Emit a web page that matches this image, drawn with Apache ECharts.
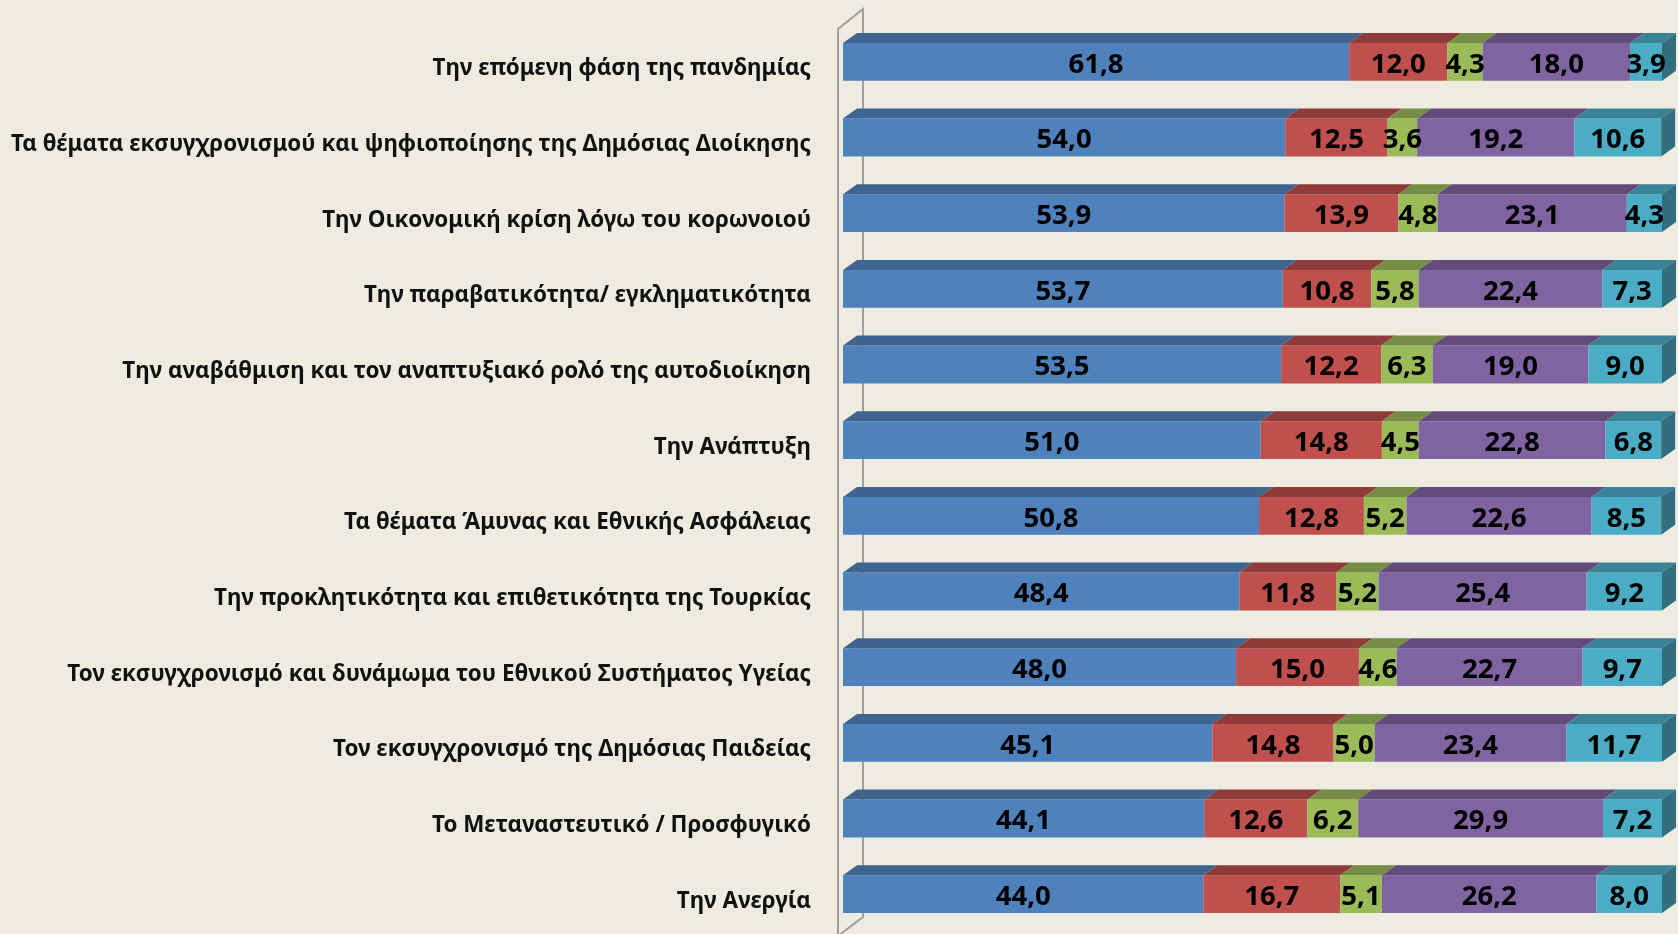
<!DOCTYPE html>
<html>
<head>
<meta charset="utf-8">
<script src="https://cdn.jsdelivr.net/npm/echarts@6/dist/echarts.min.js"></script>
<style>
html,body{margin:0;padding:0;background:#EEEBE0;}
#c{width:1678px;height:934px;}
</style>
</head>
<body>
<div id="c"></div>
<script>
const categories = [
  'Την επόμενη φάση της πανδημίας',
  'Τα θέματα εκσυγχρονισμού και ψηφιοποίησης της Δημόσιας Διοίκησης',
  'Την Οικονομική κρίση λόγω του κορωνοιού',
  'Την παραβατικότητα/ εγκληματικότητα',
  'Την αναβάθμιση και τον αναπτυξιακό ρολό της αυτοδιοίκηση',
  'Την Ανάπτυξη',
  'Τα θέματα Άμυνας και Εθνικής Ασφάλειας',
  'Την προκλητικότητα και επιθετικότητα της Τουρκίας',
  'Τον εκσυγχρονισμό και δυνάμωμα του Εθνικού Συστήματος Υγείας',
  'Τον εκσυγχρονισμό της Δημόσιας Παιδείας',
  'Το Μεταναστευτικό / Προσφυγικό',
  'Την Ανεργία'
];
const series1 = [61.8, 54.0, 53.9, 53.7, 53.5, 51.0, 50.8, 48.4, 48.0, 45.1, 44.1, 44.0];
const series2 = [12.0, 12.5, 13.9, 10.8, 12.2, 14.8, 12.8, 11.8, 15.0, 14.8, 12.6, 16.7];
const series3 = [4.3, 3.6, 4.8, 5.8, 6.3, 4.5, 5.2, 5.2, 4.6, 5.0, 6.2, 5.1];
const series4 = [18.0, 19.2, 23.1, 22.4, 19.0, 22.8, 22.6, 25.4, 22.7, 23.4, 29.9, 26.2];
const series5 = [3.9, 10.6, 4.3, 7.3, 9.0, 6.8, 8.5, 9.2, 9.7, 11.7, 7.2, 8.0];

const frontColors = ['#4F81BD', '#C0504D', '#9BBB59', '#8064A2', '#4BACC6'];
const topColors = ['#3E648F', '#8E3B39', '#758D44', '#624C7C', '#3A8297'];
const sideColor = '#316E7F';

const allSeries = [series1, series2, series3, series4, series5];
const rows = categories.map((c, i) => [i].concat(allSeries.map(s => s[i])));

const DX = 14, DY = 10;
function fmt(v){ return v.toFixed(1).replace('.', ','); }

const chart = echarts.init(document.getElementById('c'), null, {renderer: 'canvas'});
chart.setOption({
  backgroundColor: '#EEEBE0',
  animation: false,
  grid: {left: 843, right: 16, top: 24, bottom: 2},
  xAxis: {type: 'value', min: 0, max: 100, show: false},
  yAxis: {
    type: 'category', data: categories, inverse: true,
    axisLine: {show: false}, axisTick: {show: false},
    axisLabel: {margin: 32, fontFamily: 'Noto Sans', fontWeight: 'bold', fontSize: 22.4, color: '#111',
      verticalAlign: 'top', lineHeight: 14}
  },
  series: [
    {
      type: 'custom', z: 1, silent: true,
      data: [[0]],
      renderItem(params, api) {
        const p = api.coord([0, 0]);
        const band = api.size([0, 1])[1];
        const gTop = p[1] - band / 2;
        const gBot = gTop + band * categories.length;
        const xf = p[0] - 5, xb = p[0] + 20;
        const st = {stroke: '#A0A0A0', lineWidth: 2, fill: null};
        return {type: 'group', children: [
          {type: 'polyline', shape: {points: [[xf, gBot + 4], [xf, gTop + 5], [xb, gTop - 15], [xb, gBot - 15], [xf, gBot + 4]]}, style: st}
        ]};
      }
    },
    {
      type: 'custom', z: 2,
      data: rows,
      encode: {y: 0},
      renderItem(params, api) {
        const idx = api.value(0);
        const band = api.size([0, 1])[1];
        const h = band * 0.5;
        const children = [];
        const labels = [];
        let cum = 0;
        for (let k = 0; k < 5; k++) {
          const v = api.value(k + 1);
          const a = api.coord([cum, idx]);
          const b = api.coord([cum + v, idx]);
          cum += v;
          const y0 = a[1] - h / 2, y1 = a[1] + h / 2;
          children.push({type: 'rect', shape: {x: a[0], y: y0, width: b[0] - a[0], height: h}, style: {fill: frontColors[k]}});
          children.push({type: 'polygon', shape: {points: [[a[0], y0], [a[0] + DX, y0 - DY], [b[0] + DX, y0 - DY], [b[0], y0]]}, style: {fill: topColors[k]}});
          if (k === 4) {
            children.push({type: 'polygon', shape: {points: [[b[0], y0], [b[0] + DX, y0 - DY], [b[0] + DX, y1 - DY], [b[0], y1]]}, style: {fill: sideColor}});
          }
          labels.push({type: 'text', style: {text: fmt(v), x: (a[0] + b[0]) / 2, y: a[1] + 3, align: 'center', verticalAlign: 'middle',
            fontFamily: 'Noto Sans', fontWeight: 'bold', fontSize: 27.5, fill: '#000'}});
        }
        return {type: 'group', children: children.concat(labels)};
      }
    }
  ]
});
</script>
</body>
</html>
